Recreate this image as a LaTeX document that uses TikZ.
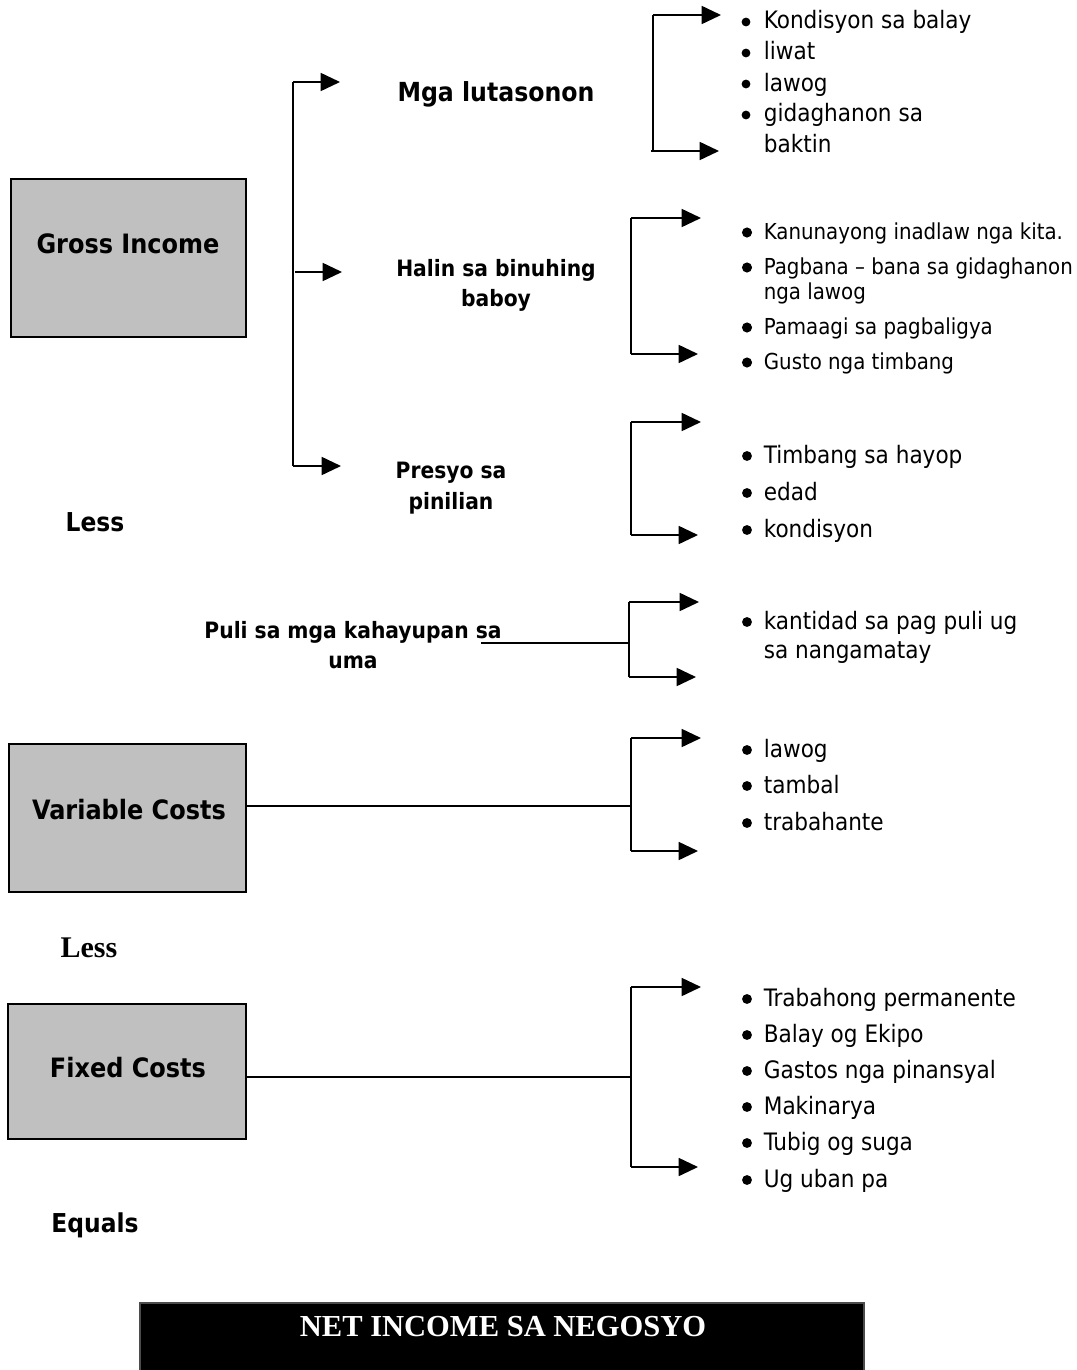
\documentclass[tikz,border=0pt]{standalone}
\usepackage{fontspec}
\setmainfont{DejaVu Sans Condensed}
\newfontfamily\serifbf{Liberation Serif}
\usetikzlibrary{arrows.meta}
\definecolor{boxgray}{RGB}{192,192,192}
\begin{document}
\begin{tikzpicture}[x=0.75pt,y=-0.75pt,line width=1.3pt,
  arr/.style={-{Triangle[length=14.5pt,width=13.5pt]}},
  grbox/.style={draw,line width=1.4pt,fill=boxgray,inner sep=0pt,anchor=north west},
  itm/.style={anchor=base west,inner sep=0pt,font=\fontsize{18}{22}\selectfont},
  itms/.style={anchor=base west,inner sep=0pt,font=\fontsize{16.5}{20}\selectfont},
  boxlab/.style={anchor=base,inner sep=0pt,font=\fontsize{20}{24}\selectfont\bfseries},
  midlab/.style={anchor=base,inner sep=0pt,font=\fontsize{16.9}{20}\selectfont\bfseries},
  sidelab/.style={anchor=base,inner sep=0pt,font=\fontsize{19.5}{23}\selectfont\bfseries},
  dot/.style={fill=black}]
\useasboundingbox (0,0) rectangle (1077,1370);

% ---------- boxes ----------
\node[grbox,minimum width=176.25pt,minimum height=118.5pt] (gross) at (10,178) {};
\node[grbox,minimum width=177.75pt,minimum height=111pt] (varc) at (8,743) {};
\node[grbox,minimum width=178.5pt,minimum height=101.25pt] (fixc) at (7,1003) {};
\node[draw=black!70,fill=black,inner sep=0pt,anchor=north west,minimum width=543pt,minimum height=54pt] (net) at (139,1302) {};

\node[boxlab] (grosst) at (128,253) {Gross Income};
\node[boxlab] (varct) at (129,819) {Variable Costs};
\node[boxlab] (fixct) at (128,1077) {Fixed Costs};
\node[anchor=base,inner sep=0pt,text=white,font=\serifbf\fontsize{22.9}{26}\selectfont\bfseries] (nett) at (503,1336) {NET INCOME SA NEGOSYO};

% ---------- side labels ----------
\node[sidelab] (less1) at (95,531) {Less};
\node[anchor=base,inner sep=0pt,font=\serifbf\fontsize{22.5}{26}\selectfont\bfseries] (less2) at (89,957) {Less};
\node[sidelab] (equals) at (95,1232) {Equals};

% ---------- middle labels ----------
\node[anchor=base,inner sep=0pt,font=\fontsize{19.7}{23}\selectfont\bfseries] (mga) at (496,102) {Mga lutasonon};
\node[midlab] (halin1) at (496,276) {Halin sa binuhing};
\node[midlab] (halin2) at (496,306) {baboy};
\node[midlab] (presyo1) at (451,478) {Presyo sa};
\node[midlab] (presyo2) at (451,509) {pinilian};
\node[midlab] (puli1) at (353,638) {Puli sa mga kahayupan sa};
\node[midlab] (puli2) at (353,668) {uma};

% ---------- main bracket ----------
\coordinate (mtop) at (293,82);
\coordinate (mmid) at (295,272);
\coordinate (mbot) at (293,466);
\draw (mtop) -- (mbot);
\draw[arr] (mtop) -- (340,82) coordinate (mtopt);
\draw[arr] (mmid) -- (342,272) coordinate (mmidt);
\draw[arr] (mbot) -- (341,466) coordinate (mbott);

% ---------- bracket 1 ----------
\coordinate (aTop) at (653,15);
\coordinate (aBot) at (653,151);
\draw (aTop) -- (aBot);
\draw[arr] (aTop) -- (721,15);
\draw[arr] (651,151) -- (719,151);
\foreach \y/\t/\b in {29/Kondisyon sa balay/1,60/liwat/1,91/lawog/1,122/gidaghanon sa/1,152/baktin/0}{
  \node[itm] (a\y) at (763,\y) {\t};
  \ifnum\b=1 \fill[dot] (746,\y-7) circle (3.3pt);\fi
}

% ---------- bracket 2 ----------
\coordinate (bTop) at (631,218);
\coordinate (bBot) at (631,354);
\draw (bTop) -- (bBot);
\draw[arr] (bTop) -- (701,218);
\draw[arr] (bBot) -- (698,354);
\foreach \y/\t/\b in {239/Kanunayong inadlaw nga kita./1,274/Pagbana – bana sa gidaghanon/1,299/nga lawog/0,334/Pamaagi sa pagbaligya/1,369/Gusto nga timbang/1}{
  \node[itms] (b\y) at (763,\y) {\t};
  \ifnum\b=1 \fill[dot] (747,\y-6.5) circle (3.8pt);\fi
}

% ---------- bracket 3 ----------
\coordinate (cTop) at (631,422);
\coordinate (cBot) at (631,535);
\draw (cTop) -- (cBot);
\draw[arr] (cTop) -- (701,422);
\draw[arr] (cBot) -- (698,535);
\foreach \y/\t in {463/Timbang sa hayop,500/edad,537/kondisyon}{
  \node[itm] (c\y) at (763,\y) {\t};
  \fill[dot] (747,\y-7) circle (3.7pt);
}

% ---------- bracket 4 (Puli) ----------
\coordinate (dStart) at (481,643);
\coordinate (dJoin) at (629,643);
\coordinate (dTop) at (629,602);
\coordinate (dBot) at (629,677);
\draw (dStart) -- (dJoin);
\draw (dTop) -- (dBot);
\draw[arr] (dTop) -- (699,602);
\draw[arr] (dBot) -- (696,677);
\node[itm] (d1) at (763,629) {kantidad sa pag puli ug};
\fill[dot] (747,622) circle (3.7pt);
\node[itm] (d2) at (763,658) {sa nangamatay};

% ---------- bracket 5 (Variable) ----------
\coordinate (eJoin) at (631,806);
\coordinate (eTop) at (631,738);
\coordinate (eBot) at (631,851);
\draw (varc.east |- eJoin) -- (eJoin);
\draw (eTop) -- (eBot);
\draw[arr] (eTop) -- (701,738);
\draw[arr] (eBot) -- (698,851);
\foreach \y/\t in {757/lawog,793/tambal,830/trabahante}{
  \node[itm] (e\y) at (763,\y) {\t};
  \fill[dot] (747,\y-7) circle (3.7pt);
}

% ---------- bracket 6 (Fixed) ----------
\coordinate (fJoin) at (631,1077);
\coordinate (fTop) at (631,987);
\coordinate (fBot) at (631,1167);
\draw (fixc.east |- fJoin) -- (fJoin);
\draw (fTop) -- (fBot);
\draw[arr] (fTop) -- (701,987);
\draw[arr] (fBot) -- (698,1167);
\foreach \y/\t in {1006/Trabahong permanente,1042/Balay og Ekipo,1078/Gastos nga pinansyal,1114/Makinarya,1150/Tubig og suga,1187/Ug uban pa}{
  \node[itm] (f\y) at (763,\y) {\t};
  \fill[dot] (747,\y-7) circle (3.7pt);
}
\end{tikzpicture}
\end{document}
